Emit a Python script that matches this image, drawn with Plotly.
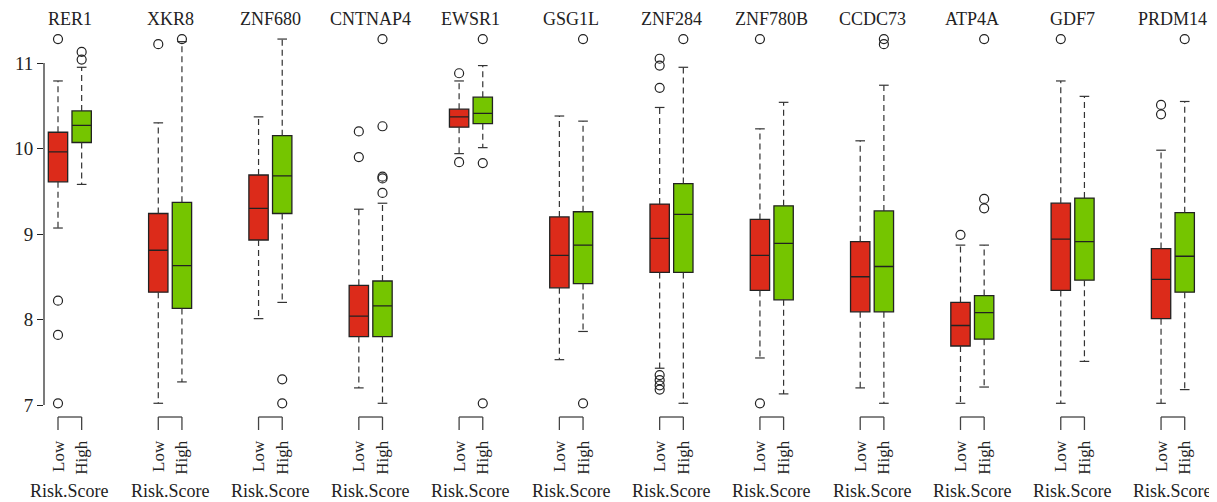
import plotly.graph_objects as go

genes = ["RER1", "XKR8", "ZNF680", "CNTNAP4", "EWSR1", "GSG1L",
         "ZNF284", "ZNF780B", "CCDC73", "ATP4A", "GDF7", "PRDM14"]
group_labels = ["Low", "High"]
y_ticks = [7, 8, 9, 10, 11]
x_title = "Risk.Score"

# Low risk group
low_lower = [9.07, 7.02, 8.01, 7.20, 9.94, 7.53, 7.43, 7.55, 7.20, 7.02, 7.02, 7.02]
low_q1 = [9.61, 8.32, 8.93, 7.80, 10.25, 8.37, 8.55, 8.34, 8.09, 7.69, 8.34, 8.01]
low_median = [9.96, 8.81, 9.30, 8.04, 10.37, 8.75, 8.95, 8.75, 8.50, 7.93, 8.94, 8.47]
low_q3 = [10.19, 9.24, 9.69, 8.40, 10.46, 9.20, 9.35, 9.17, 8.91, 8.20, 9.36, 8.83]
low_upper = [10.79, 10.30, 10.37, 9.29, 10.79, 10.38, 10.48, 10.23, 10.09, 8.87, 10.79, 9.98]
low_outliers = [
    [11.28, 8.22, 7.82, 7.02],
    [11.22],
    [],
    [10.20, 9.90],
    [10.88, 9.84],
    [],
    [11.05, 10.97, 10.71, 7.35, 7.29, 7.23, 7.18],
    [11.28, 7.02],
    [],
    [8.99],
    [11.28],
    [10.51, 10.40],
]

# High risk group
high_lower = [9.58, 7.27, 8.20, 7.02, 10.01, 7.86, 7.02, 7.13, 7.02, 7.21, 7.51, 7.18]
high_q1 = [10.07, 8.13, 9.24, 7.80, 10.29, 8.42, 8.55, 8.23, 8.09, 7.77, 8.46, 8.32]
high_median = [10.27, 8.63, 9.68, 8.16, 10.41, 8.87, 9.23, 8.89, 8.62, 8.08, 8.91, 8.74]
high_q3 = [10.44, 9.37, 10.15, 8.45, 10.60, 9.26, 9.59, 9.33, 9.27, 8.28, 9.42, 9.25]
high_upper = [10.95, 11.25, 11.28, 9.36, 10.97, 10.32, 10.95, 10.54, 10.74, 8.87, 10.61, 10.55]
high_outliers = [
    [11.13, 11.04],
    [11.28],
    [7.30, 7.02],
    [11.28, 10.26, 9.67, 9.65, 9.48],
    [11.28, 9.83, 7.02],
    [11.28, 7.02],
    [11.28],
    [],
    [11.28, 11.22],
    [11.28, 9.41, 9.30],
    [],
    [11.28],
]

RED = "#DC2B1A"
GREEN = "#75C500"
INK = "#222222"
FONT = "Liberation Serif"

OFFSET = 0.118
BOX_W = 0.193
CAP = 0.048

groups = [
    dict(name="Low", off=-OFFSET, color=RED, lo=low_lower, q1=low_q1, med=low_median,
         q3=low_q3, hi=low_upper, out=low_outliers),
    dict(name="High", off=OFFSET, color=GREEN, lo=high_lower, q1=high_q1, med=high_median,
         q3=high_q3, hi=high_upper, out=high_outliers),
]

fig = go.Figure()

for g in groups:
    xs = [i + g["off"] for i in range(len(genes))]
    wx, wy = [], []
    cx, cy = [], []
    ox, oy = [], []
    for i, x in enumerate(xs):
        wx += [x, x, None, x, x, None]
        wy += [g["q3"][i], g["hi"][i], None, g["q1"][i], g["lo"][i], None]
        cx += [x - CAP, x + CAP, None, x - CAP, x + CAP, None]
        cy += [g["hi"][i], g["hi"][i], None, g["lo"][i], g["lo"][i], None]
        for v in g["out"][i]:
            ox.append(x)
            oy.append(v)
    fig.add_trace(go.Scatter(x=wx, y=wy, mode="lines", hoverinfo="skip",
                             line=dict(color="#333333", width=1.2, dash="6px,4px")))
    fig.add_trace(go.Scatter(x=cx, y=cy, mode="lines", hoverinfo="skip",
                             line=dict(color="#333333", width=1.2)))
    fig.add_trace(go.Box(
        x=xs, q1=g["q1"], median=g["med"], q3=g["q3"],
        lowerfence=g["q1"], upperfence=g["q3"],
        width=BOX_W, fillcolor=g["color"], whiskerwidth=0,
        line=dict(color=INK, width=1.3), boxpoints=False, name=g["name"],
    ))
    fig.add_trace(go.Scatter(x=ox, y=oy, mode="markers", cliponaxis=False,
                             marker=dict(symbol="circle-open", size=9,
                                         color=INK, line=dict(width=1.2))))

tickvals, ticktext = [], []
for i in range(len(genes)):
    for g in groups:
        tickvals.append(i + g["off"])
        ticktext.append(g["name"])

PLOT_H = 380.0
TOP_M = 22.0
shapes = []
shapes.append(dict(type="line", xref="paper", yref="y", x0=0, x1=0,
                   y0=y_ticks[0], y1=y_ticks[-1], line=dict(color=INK, width=1.2)))
annotations = []
for i, gname in enumerate(genes):
    xl, xh = i - OFFSET, i + OFFSET
    ytop = -7 / PLOT_H
    ybot = -20 / PLOT_H
    shapes.append(dict(type="line", xref="x", yref="paper", x0=xl, x1=xh, y0=ytop, y1=ytop,
                       line=dict(color="#444444", width=1.3)))
    shapes.append(dict(type="line", xref="x", yref="paper", x0=xl, x1=xl, y0=ytop, y1=ybot,
                       line=dict(color="#444444", width=1.3)))
    shapes.append(dict(type="line", xref="x", yref="paper", x0=xh, x1=xh, y0=ytop, y1=ybot,
                       line=dict(color="#444444", width=1.3)))
    annotations.append(dict(text=gname, x=i, xref="x", y=1 + TOP_M / PLOT_H, yref="paper",
                            yanchor="top", xanchor="center", showarrow=False, borderpad=0,
                            font=dict(family=FONT, size=18, color=INK)))
    annotations.append(dict(text=x_title, x=i, xref="x", y=-81 / PLOT_H, yref="paper",
                            yanchor="middle", xanchor="center", showarrow=False,
                            font=dict(family=FONT, size=18, color=INK)))

# page has an 8px body margin, so the figure is drawn 8px smaller each way
fig.update_layout(
    width=1209, height=494,
    margin=dict(l=36, r=0, t=22, b=92),
    paper_bgcolor="white", plot_bgcolor="white",
    showlegend=False, boxmode="overlay",
    shapes=shapes, annotations=annotations,
    font=dict(family=FONT, color=INK),
    xaxis=dict(range=[-0.2576, 11.44], tickvals=tickvals, ticktext=ticktext,
               tickangle=-90, ticks="outside", ticklen=23, tickcolor="rgba(0,0,0,0)",
               showgrid=False, zeroline=False, showline=False,
               tickfont=dict(family=FONT, size=17, color=INK)),
    yaxis=dict(range=[6.9415, 11.386], tickvals=y_ticks, ticktext=[str(v) for v in y_ticks],
               ticks="outside", ticklen=6, tickwidth=1.2, tickcolor=INK,
               showgrid=False, zeroline=False, showline=False,
               tickfont=dict(family=FONT, size=19, color=INK)),
)

fig.write_html("out.html")
